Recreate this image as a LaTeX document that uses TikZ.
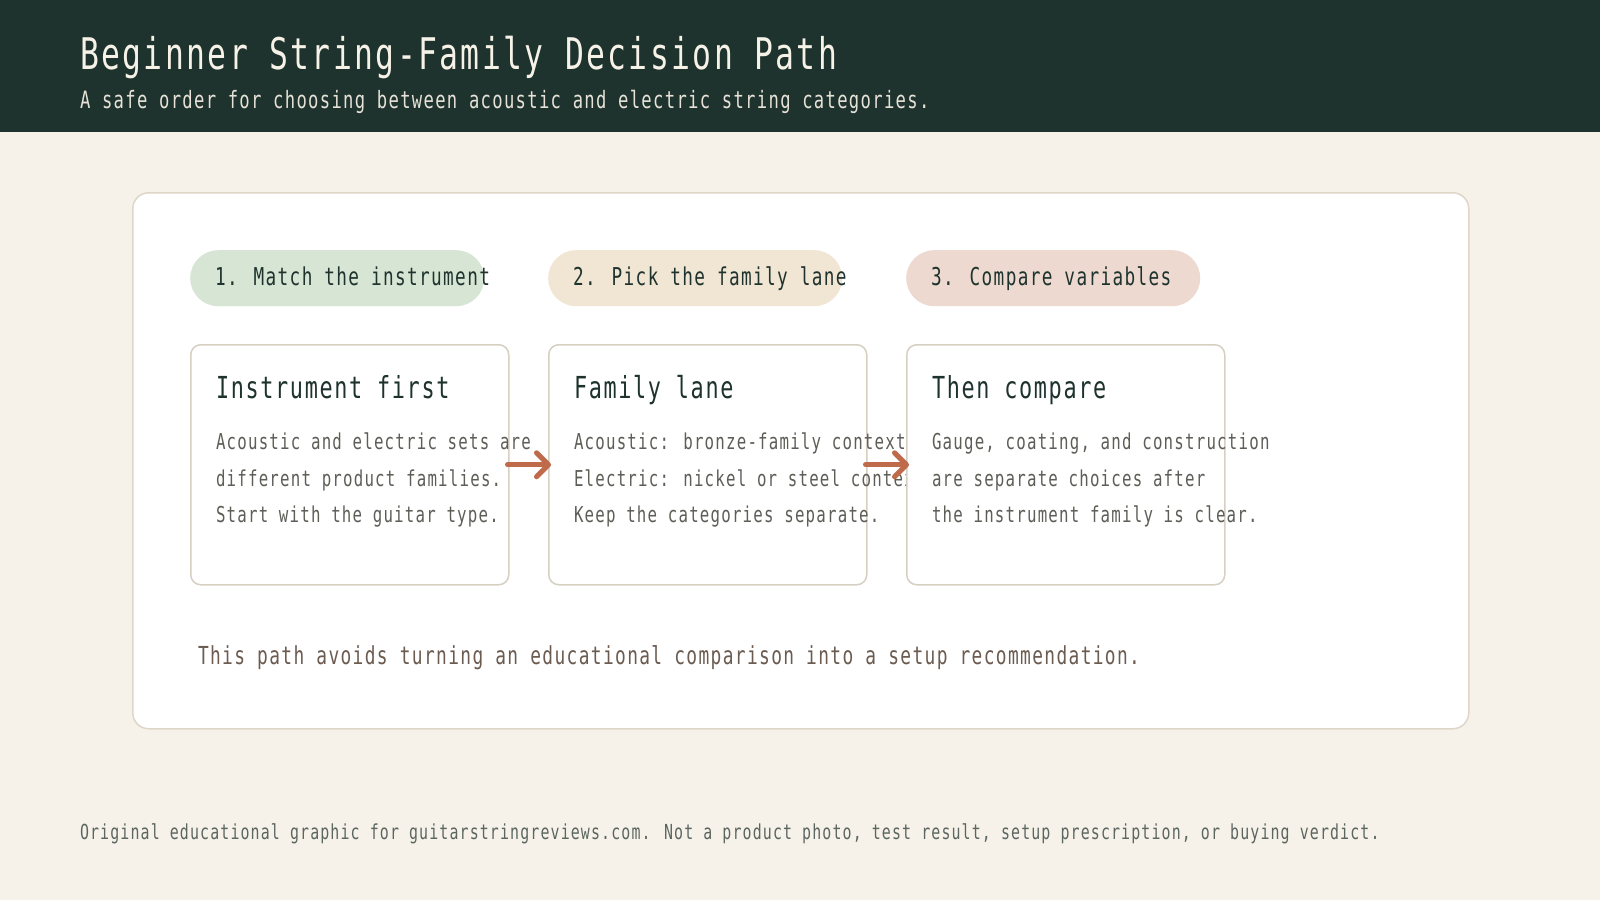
\documentclass[tikz,border=0pt]{standalone}
\usepackage{fontspec}
\usetikzlibrary{arrows.meta}
\newfontfamily\monof[FakeStretch=0.72,LetterSpace=5.5]{DejaVu Sans Mono}
\newcommand{\mfs}[1]{\fontsize{#1}{#1}\selectfont\monof}
\definecolor{bgc}{HTML}{F6F2E9}
\definecolor{hdrc}{HTML}{1E332D}
\definecolor{titlec}{HTML}{F6F2E8}
\definecolor{subc}{HTML}{E6E2D8}
\definecolor{panelline}{HTML}{DDD6C9}
\definecolor{cardline}{HTML}{D6D0C3}
\definecolor{pillA}{HTML}{D7E6D4}
\definecolor{pillB}{HTML}{F1E5D3}
\definecolor{pillC}{HTML}{EDD9CF}
\definecolor{darkc}{HTML}{1F332E}
\definecolor{bodyc}{HTML}{5E5E58}
\definecolor{notec}{HTML}{6B5B50}
\definecolor{footc}{HTML}{5B6660}
\definecolor{arrc}{HTML}{BF6A4A}
\begin{document}
\begin{tikzpicture}[x=1pt,y=-1pt,
  txt/.style={anchor=base west, inner sep=0pt, outer sep=0pt},
  pill/.style={draw=none, rounded corners=28pt, minimum width=294pt, minimum height=56pt, inner sep=0pt, anchor=north west},
  card/.style={draw=cardline, line width=1.5pt, fill=white, rounded corners=10pt, minimum width=318pt, minimum height=240pt, inner sep=0pt, anchor=north west},
  pilltxt/.style={txt, text=darkc, font=\mfs{24.6}},
  cardtitle/.style={txt, text=darkc, font=\mfs{30.3}},
  bodytxt/.style={txt, text=bodyc, font=\mfs{21.9}},
  flow/.style={draw=arrc, line width=5pt, -{Straight Barb[length=12pt,width=24pt,line cap=round,line join=round]}, line cap=round, shorten <=-2pt, shorten >=-3pt}
]
\useasboundingbox (0,0) rectangle (1600,900);
\fill[bgc] (0,0) rectangle (1600,900);
\node[fill=hdrc, minimum width=1600pt, minimum height=132pt, inner sep=0pt, anchor=north west] (hdr) at (0,0) {};
\node[txt, text=titlec, font=\mfs{43.6}] (title) at (80,69) {Beginner String-Family Decision Path};
\node[txt, text=subc, font=\mfs{23.9}] (sub) at (80,108) {A safe order for choosing between acoustic and electric string categories.};

\node[draw=panelline, line width=1.5pt, fill=white, rounded corners=16pt, minimum width=1336pt, minimum height=536pt, inner sep=0pt, anchor=north west] (panel) at (132,192) {};

\node[pill, fill=pillA] (p1) at (190,250) {};
\node[pill, fill=pillB] (p2) at (548,250) {};
\node[pill, fill=pillC] (p3) at (906,250) {};
\node[pilltxt] (p1t) at (215,285) {1. Match the instrument};
\node[pilltxt] (p2t) at (573,285) {2. Pick the family lane};
\node[pilltxt] (p3t) at (931,285) {3. Compare variables};

\node[card] (c1) at (190,344) {};
\node[cardtitle] (c1t) at (216,398) {Instrument first};
\node[bodytxt] (c1a) at (216,449) {Acoustic and electric sets are};
\node[bodytxt] (c1b) at (216,486) {different product families.};
\node[bodytxt] (c1c) at (216,522) {Start with the guitar type.};

\node[card] (c2) at (548,344) {};
\node[cardtitle] (c2t) at (574,398) {Family lane};
\node[bodytxt] (c2a) at (574,449) {Acoustic: bronze-family context};
\node[bodytxt] (c2b) at (574,486) {Electric: nickel or steel context};
\node[bodytxt] (c2c) at (574,522) {Keep the categories separate.};

\node[card] (c3) at (906,344) {};
\node[cardtitle] (c3t) at (932,398) {Then compare};
\node[bodytxt] (c3a) at (932,449) {Gauge, coating, and construction};
\node[bodytxt] (c3b) at (932,486) {are separate choices after};
\node[bodytxt] (c3c) at (932,522) {the instrument family is clear.};

\draw[flow] (c1.east) -- (c2.west);
\draw[flow] (c2.east) -- (c3.west);

\node[txt, text=notec, font=\mfs{24.8}] (note) at (198,664) {This path avoids turning an educational comparison into a setup recommendation.};
\node[txt, text=footc, font=\mfs{20.7}] (foot) at (80,839) {Original educational graphic for guitarstringreviews.com. Not a product photo, test result, setup prescription, or buying verdict.};
\end{tikzpicture}
\end{document}
